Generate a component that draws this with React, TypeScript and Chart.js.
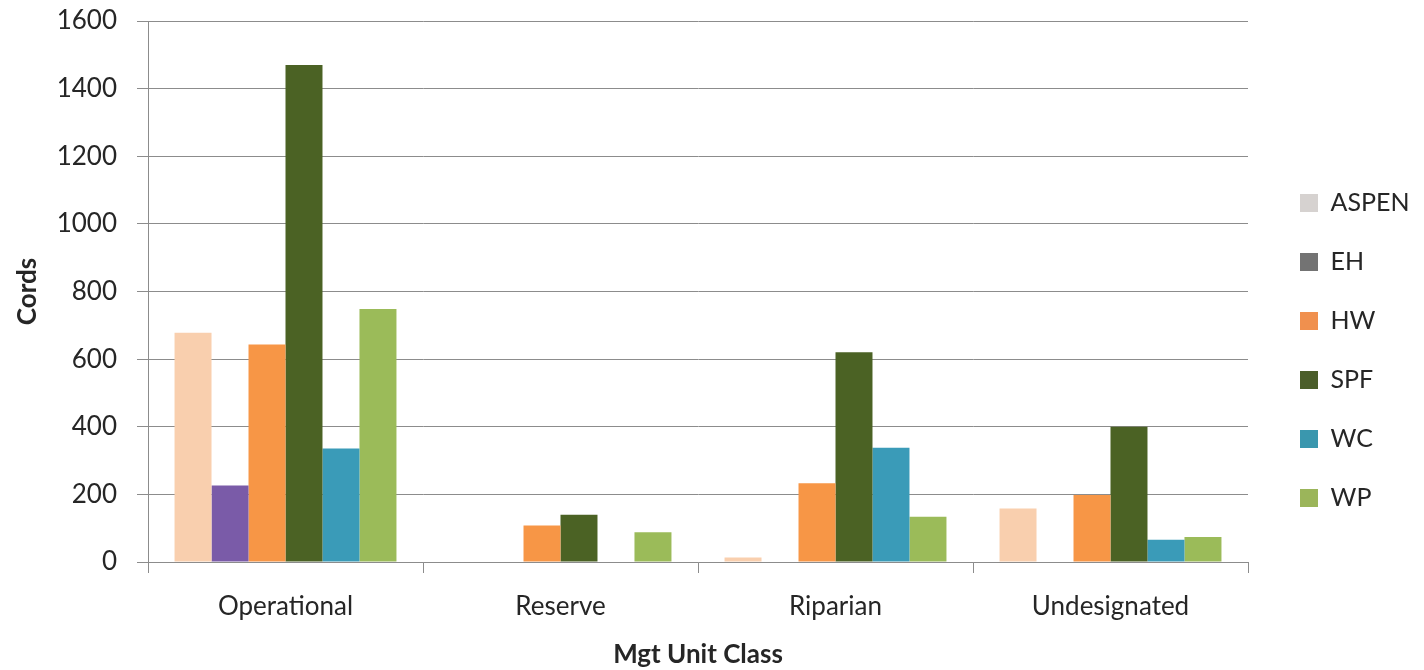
import React, { useEffect, useRef } from "react";
import { Chart, registerables } from "chart.js";

Chart.register(...registerables);

const categories = ["Operational", "Reserve", "Riparian", "Undesignated"];
const seriesNames = ["ASPEN", "EH", "HW", "SPF", "WC", "WP"];
const aspen = [678, null, 13, 158];
const eh = [226, null, null, null];
const hw = [643, 108, 233, 198];
const spf = [1470, 140, 620, 400];
const wc = [336, null, 338, 66];
const wp = [748, 88, 134, 74];
const barColors = ["#F9CFAE", "#7A5BA8", "#F79646", "#4B6224", "#3A9BB8", "#9BBB59"];
const legendColors = ["#D6D2D0", "#737373", "#F0904E", "#4B5E2A", "#3A97AE", "#9BB55A"];
const yTicks = [0, 200, 400, 600, 800, 1000, 1200, 1400, 1600];

const FONT = "Lato, 'Open Sans', sans-serif";
const TEXT = "#262626";
const GRID = "#8C8C8C";

export default function App() {
  const ref = useRef<HTMLCanvasElement>(null);
  useEffect(() => {
    document.body.style.margin = "0";
    const values = [aspen, eh, hw, spf, wc, wp];
    const legendPlugin = {
      id: "legendPlace",
      afterLayout(chart: any) {
        const lg = chart.legend;
        if (!lg) return;
        const pad = 34;
        lg.left = 1300 - pad;
        lg.right = lg.left + lg.width;
        lg.top = 190.5 - pad;
        lg.bottom = lg.top + lg.height;
      },
    };
    const chart = new Chart(ref.current!, {
      type: "bar",
      data: {
        labels: categories,
        datasets: seriesNames.map((name, i) => ({
          label: name,
          data: values[i],
          backgroundColor: barColors[i],
          borderWidth: 0,
          categoryPercentage: 0.807,
          barPercentage: 1,
        })),
      },
      plugins: [legendPlugin],
      options: {
        animation: false,
        responsive: false,
        maintainAspectRatio: false,
        layout: { padding: { top: 21, right: 176, bottom: 0, left: 0 } },
        plugins: {
          tooltip: { enabled: false },
          legend: {
            position: "chartArea",
            align: "start",
            labels: {
              font: { family: FONT, size: 25 },
              color: TEXT,
              boxWidth: 18,
              boxHeight: 18,
              padding: 34,
              generateLabels: (chart: any) => {
                const items = Chart.defaults.plugins.legend.labels.generateLabels(chart);
                return items.map((it: any, i: number) => ({
                  ...it,
                  fillStyle: legendColors[i],
                  strokeStyle: legendColors[i],
                  lineWidth: 0,
                }));
              },
            },
          },
        },
        scales: {
          x: {
            offset: true,
            grid: { drawOnChartArea: false, drawTicks: true, tickLength: 11, color: GRID, offset: true },
            border: { color: GRID },
            ticks: { font: { family: FONT, size: 26 }, color: TEXT, padding: 18 },
            title: {
              display: true,
              text: "Mgt Unit Class",
              font: { family: FONT, size: 26, weight: "bold", lineHeight: 1 },
              color: TEXT,
              padding: { top: 0, bottom: 2 },
            },
            afterFit: (s: any) => {
              s.height = 108;
              s.paddingLeft = 0;
              s.paddingRight = 0;
            },
          },
          y: {
            min: 0,
            max: 1600,
            afterBuildTicks: (s: any) => {
              s.ticks = yTicks.map((v) => ({ value: v }));
            },
            grid: { color: GRID, tickLength: 11, drawTicks: true },
            border: { color: GRID },
            ticks: {
              font: { family: FONT, size: 26 },
              color: TEXT,
              padding: 20,
              callback: (v: any) => String(v),
            },
            title: {
              display: true,
              text: "Cords",
              font: { family: FONT, size: 26, weight: "bold", lineHeight: 1 },
              color: TEXT,
              padding: { top: 15, bottom: 0 },
            },
            afterFit: (s: any) => {
              s.width = 148;
              s.paddingTop = 0;
              s.paddingBottom = 0;
            },
          },
        },
      },
    } as any);
    return () => chart.destroy();
  }, []);
  return (
    <div style={{ width: 1424, height: 670 }}>
      <canvas ref={ref} width={1424} height={670} style={{ display: "block", width: 1424, height: 670 }} />
    </div>
  );
}
